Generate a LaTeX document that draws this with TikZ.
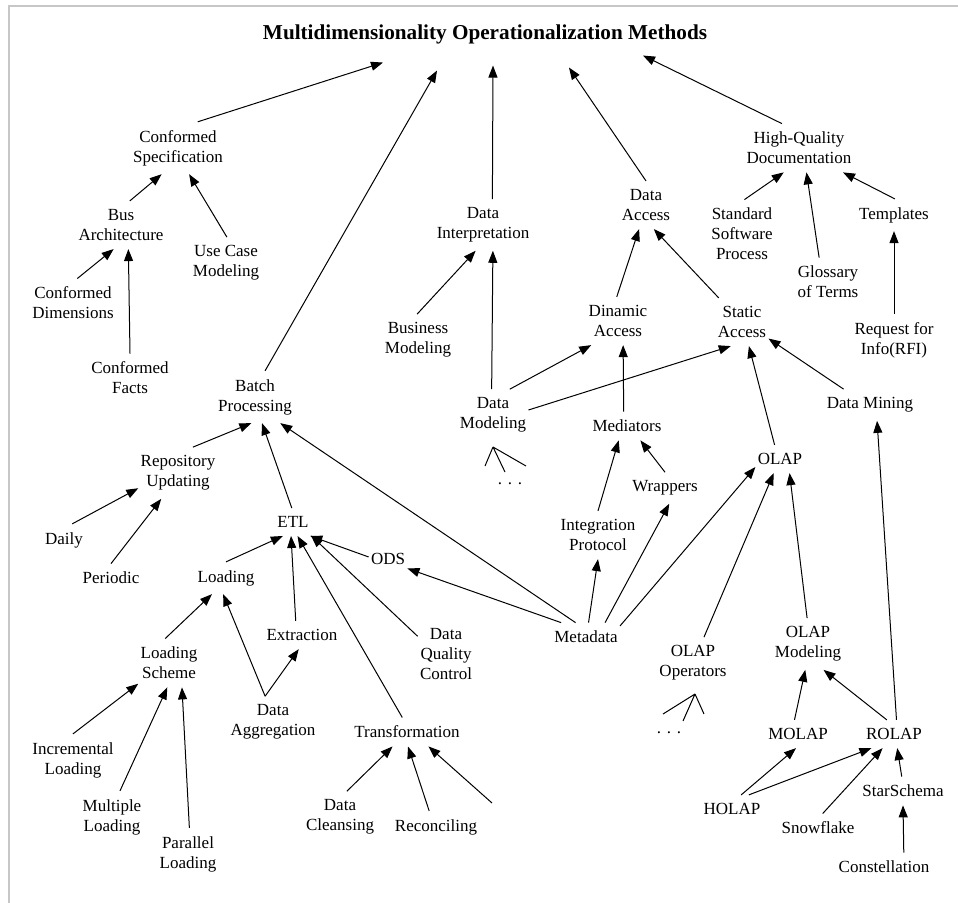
\documentclass[tikz,border=0pt]{standalone}
\usepackage{fontspec}
\setmainfont{Liberation Serif}
\usetikzlibrary{arrows.meta}

\begin{document}
\begin{tikzpicture}[x=0.5pt, y=-0.5pt]
	\useasboundingbox (0,0) rectangle (958,903);
	% frame
	\draw[black!22, line width=1pt] (8.5,903) -- (8.5,6) -- (958,6);
	\node[font=\fontsize{10.6}{12}\selectfont\bfseries, inner sep=0pt] (title) at (485,34) {Multidimensionality Operationalization Methods};
	\begin{scope}[every node/.style={align=center, font=\fontsize{8.5}{10}\selectfont, inner xsep=1pt, inner ysep=4pt}]
		\node (cspec) at (178,148) {Conformed\\Specification};
		\node (bus) at (121,225) {Bus\\Architecture};
		\node (usecase) at (226,263) {Use Case\\Modeling};
		\node (cdim) at (73,303) {Conformed\\Dimensions};
		\node (cfacts) at (130,378) {Conformed\\Facts};
		\node (batch) at (255,397) {Batch\\Processing};
		\node (repo) at (178,473) {Repository\\Updating};
		\node (daily) at (64,540) {Daily};
		\node (periodic) at (111,578) {Periodic};
		\node (etl) at (293,522) {ETL};
		\node (ods) at (388,559) {ODS};
		\node (loading) at (226,578) {Loading};
		\node (extract) at (302,635) {Extraction};
		\node (lscheme) at (169,663) {Loading\\Scheme};
		\node (dqc) at (446,654) {Data\\Quality\\Control};
		\node (agg) at (273,722) {Data\\Aggregation};
		\node (transf) at (407,732) {Transformation};
		\node (incr) at (73,760) {Incremental\\Loading};
		\node (multi) at (112,817) {Multiple\\Loading};
		\node (para) at (188,854) {Parallel\\Loading};
		\node (cleans) at (340,817) {Data\\Cleansing};
		\node (recon) at (436,827) {Reconciling};
		\node (interp) at (483,225) {Data\\Interpretation};
		\node (access) at (646,205) {Data\\Access};
		\node (hqd) at (799,148) {High-Quality\\Documentation};
		\node (ssp) at (742,234) {Standard\\Software\\Process};
		\node (gloss) at (828,282) {Glossary\\of Terms};
		\node (templ) at (894,215) {Templates};
		\node (rfi) at (894,340) {Request for\\Info(RFI)};
		\node (business) at (418,340) {Business\\Modeling};
		\node (dinamic) at (618,321) {Dinamic\\Access};
		\node (static) at (742,322) {Static\\Access};
		\node (mining) at (870,405) {Data Mining};
		\node (dmodel) at (493,415) {Data\\Modeling};
		\node (mediators) at (627,426) {Mediators};
		\node (olap) at (780,459) {OLAP};
		\node (wrappers) at (665,488) {Wrappers};
		\node (integr) at (598,535) {Integration\\Protocol};
		\node (metadata) at (586,637) {Metadata};
		\node (olapops) at (693,663) {OLAP\\Operators};
		\node (olapmod) at (808,644) {OLAP\\Modeling};
		\node (molap) at (798,734) {MOLAP};
		\node (rolap) at (894,734) {ROLAP};
		\node (holap) at (732,809) {HOLAP};
		\node (star) at (903,791) {StarSchema};
		\node (snow) at (818,828) {Snowflake};
		\node (constel) at (884,867) {Constellation};
		\node (dmdots) at (510,484) {. . .};
		\node (opdots) at (669,733) {. . .};
	\end{scope}
	% open branches
	\coordinate (dmapex) at (493,447);
	\coordinate (opapex) at (695,694);
	\coordinate (transfR) at (492,803);
	\draw[line width=0.5pt] (dmapex) -- ++(-8,19) (dmapex) -- ++(12,25) (dmapex) -- ++(33,19);
	\draw[line width=0.5pt] (opapex) -- ++(-32,20) (opapex) -- ++(-12,27) (opapex) -- ++(9,20);
	\begin{scope}[every path/.style={line width=0.5pt, -{Triangle[length=6pt,width=4.5pt]}}]
		\path (cspec.53) edge ([xshift=-51pt,yshift=-9.25pt]title.south);
		\path (batch.69) edge ([xshift=-24pt,yshift=-13.25pt]title.south);
		\path (interp.70) edge ([xshift=4pt,yshift=-10.75pt]title.south);
		\path (access.90) edge ([xshift=42pt,yshift=-11.75pt]title.south);
		\path (hqd.125) edge ([xshift=79pt,yshift=-5.75pt]title.south);
		
		\path (bus.70) edge (cspec.238);
		\path (usecase.88) edge (cspec.293);
		\path (cdim.80) edge (bus.253);
		\path (cfacts.90) edge (bus.287);
		
		\path (ssp.86) edge (hqd.238);
		\path (gloss.110) edge (hqd.287);
		\path (templ.87) edge (hqd.331);
		\path (rfi.90) edge (templ.270);
		
		\path (business.92) edge (interp.254);
		\path (dmodel.93) edge (interp.291);
		\path (dmodel.57) edge (dinamic.222);
		\path (dmodel.8) edge (static.245);
		\path (dinamic.93) edge (access.254);
		\path (static.134) edge (access.288);
		\path (mediators.103) edge (dinamic.282);
		\path (olap.111) edge (static.286);
		\path (mining.149) edge (static.328);
		
		\path (repo.60) edge (batch.262);
		\path (etl.95) edge (batch.285);
		\path (metadata.126) edge (batch.314);
		\path (daily.63) edge (repo.201);
		\path (periodic.90) edge (repo.237);
		
		\path (loading.90) edge (etl.234);
		\path (extract.114) edge (etl.262);
		\path (transf.108) edge (etl.288);
		\path (dqc.148) edge (etl.323);
		\path (ods.174) edge (etl.321);
		\path (metadata.150) edge (ods.334);
		\path (lscheme.99) edge (loading.229);
		\path (agg.107)
		edge (loading.260)
		edge (extract.257);
		\path (incr.90) edge (lscheme.214);
		\path (multi.73) edge (lscheme.266);
		\path (para.87) edge (lscheme.298);
		\path (cleans.75) edge (transf.225);
		\path (recon.113) edge (transf.274);
		\path (transfR) edge (transf.326);
		
		\path (integr.90) edge (mediators.240);
		\path (wrappers.90) edge (mediators.313);
		\path (metadata.80) edge (integr.270);
		\path (metadata.37) edge (wrappers.285);
		\path (metadata.18) edge (olap.198);
		\path (olapops.67) edge (olap.246);
		\path (olapmod.92) edge (olap.304);
		
		\path (rolap.80) edge (mining.294);
		\path (molap.104) edge (olapmod.264);
		\path (rolap.117) edge (olapmod.301);
		\path (holap.57) edge (molap.262);
		\path (holap.40) edge (rolap.212);
		\path (snow.72) edge (rolap.231);
		\path (star.95) edge (rolap.283);
		\path (constel.36) edge (star.270);
	\end{scope}
\end{tikzpicture}
\end{document}
